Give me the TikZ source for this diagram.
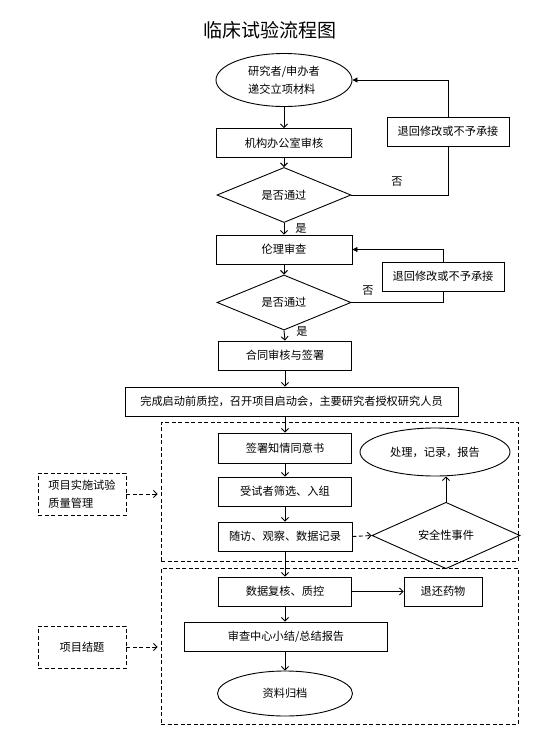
\documentclass[tikz,border=0pt]{standalone}
\usepackage{fontspec}
\setmainfont{Noto Sans CJK SC}
\usetikzlibrary{arrows.meta,shapes.geometric,calc}
\begin{document}
\begin{tikzpicture}[x=1pt,y=-1pt,
  every node/.style={font=\fontsize{11.2}{18}\selectfont, inner sep=0pt},
  lw/.style={line width=0.9pt},
  box/.style={draw, lw, minimum height=29pt, align=center},
  ell/.style={draw, lw, ellipse, align=center},
  dia/.style={draw, lw, diamond, align=center},
  dbox/.style={draw, lw, dash pattern=on 4pt off 2.5pt},
  arr/.style={lw, -{Straight Barb[length=3.5pt,width=7pt]}},
  darr/.style={lw, dash pattern=on 4pt off 2.5pt, -{Straight Barb[length=3.5pt,width=7pt]}},
  ret/.style={lw, -{Triangle[length=5pt,width=5pt]}},
  lbl/.style={font=\fontsize{11.2}{13}\selectfont}
]
\useasboundingbox (0,0) rectangle (545,744);
\fill[white] (0,0) rectangle (545,744);

\node[font=\fontsize{19}{22}\selectfont] (title) at (270,30) {临床试验流程图};

% top part
\node[ell, minimum width=136pt, minimum height=53pt, align=left] (e1) at (284,80) {研究者/申办者\\递交立项材料};
\node[box, minimum width=135pt] (b1) at (284,143) {机构办公室审核};
\node[dia, minimum width=134pt, minimum height=46pt] (d1) at (284,195) {是否通过};
\node[box, minimum width=122pt] (r1) at (448,131.5) {退回修改或不予承接};
\node[lbl] (no1) at (397,182) {否};

\node[box, minimum width=136pt] (b2) at (284,249.5) {伦理审查};
\node[lbl] (yes1) at (301,228) {是};
\node[dia, minimum width=134pt, minimum height=43pt] (d2) at (284,302.5) {是否通过};
\node[box, minimum width=122pt] (r2) at (443,276.5) {退回修改或不予承接};
\node[lbl, fill=white, inner sep=2pt] (no2) at (368,291) {否};
\node[lbl] (yes2) at (302,331) {是};

\node[box, minimum width=133pt] (b3) at (285,355.5) {合同审核与签署};
\node[box, minimum width=333pt] (wide) at (291.5,401.5) {完成启动前质控，召开项目启动会，主要研究者授权研究人员};

% dashed group 1
\node[dbox, minimum width=357pt, minimum height=139pt] (g1) at (339.5,491.5) {};
\node[box, minimum width=133pt, minimum height=30pt] (s1) at (285,448) {签署知情同意书};
\node[box, minimum width=133pt] (s2) at (285,491.5) {受试者筛选、入组};
\node[box, minimum width=134pt] (s3) at (285,536.5) {随访、观察、数据记录};
\node[ell, minimum width=150pt, minimum height=48pt] (e2) at (435,452) {处理，记录，报告};
\node[dia, minimum width=148pt, minimum height=45pt] (d3) at (446,535.5) {安全性事件};
\node[dbox, minimum width=88pt, minimum height=42pt, align=left] (q1) at (82,494) {项目实施试验\\质量管理};

% dashed group 2
\node[dbox, minimum width=357pt, minimum height=156pt] (g2) at (339.5,646) {};
\node[box, minimum width=133pt] (t1) at (285,591.5) {数据复核、质控};
\node[box, minimum width=78pt] (t2) at (443,591.5) {退还药物};
\node[box, minimum width=203pt] (t3) at (286,636.5) {审查中心小结/总结报告};
\node[ell, minimum width=135pt, minimum height=45pt] (e3) at (285,693.5) {资料归档};
\node[dbox, minimum width=88pt, minimum height=42pt] (q2) at (82,647) {项目结题};

% main flow
\draw[arr] (e1.south) -- (b1.north);
\draw[arr] (b1.south) -- (d1.north);
\draw[arr] (d1.south) -- (b2.north);
\draw[arr] (b2.south) -- (d2.north);
\draw[arr] (d2.south) -- (b3.north);
\draw[arr] (b3.south) -- (b3.south |- wide.north);
\draw[arr] (s1.north |- wide.south) -- (s1.north);
\draw[arr] (s1.south) -- (s2.north);
\draw[arr] (s2.south) -- (s3.north);
\draw[arr] (s3.south) -- (t1.north);
\draw[arr] (t1.south) -- (t1.south |- t3.north);
\draw[arr] (t3.south -| e3.north) -- (e3.north);
\draw[arr] (t1.east) -- (t2.west);

% return loops
\draw[lw] (d1.east) -| (r1.south);
\draw[ret] (r1.north) |- (e1.east);
\draw[lw] (d2.east) -| (r2.south);
\draw[ret] (r2.north) |- (b2.east);

% safety
\draw[darr] (s3.east) -- (d3.west);
\draw[arr] (d3.north) -- (d3.north |- e2.south);

% side notes
\draw[darr, shorten >=3pt] (q1.east) -- (q1.east -| g1.west);
\draw[darr, shorten >=3pt] (q2.east) -- (q2.east -| g2.west);
\end{tikzpicture}
\end{document}
